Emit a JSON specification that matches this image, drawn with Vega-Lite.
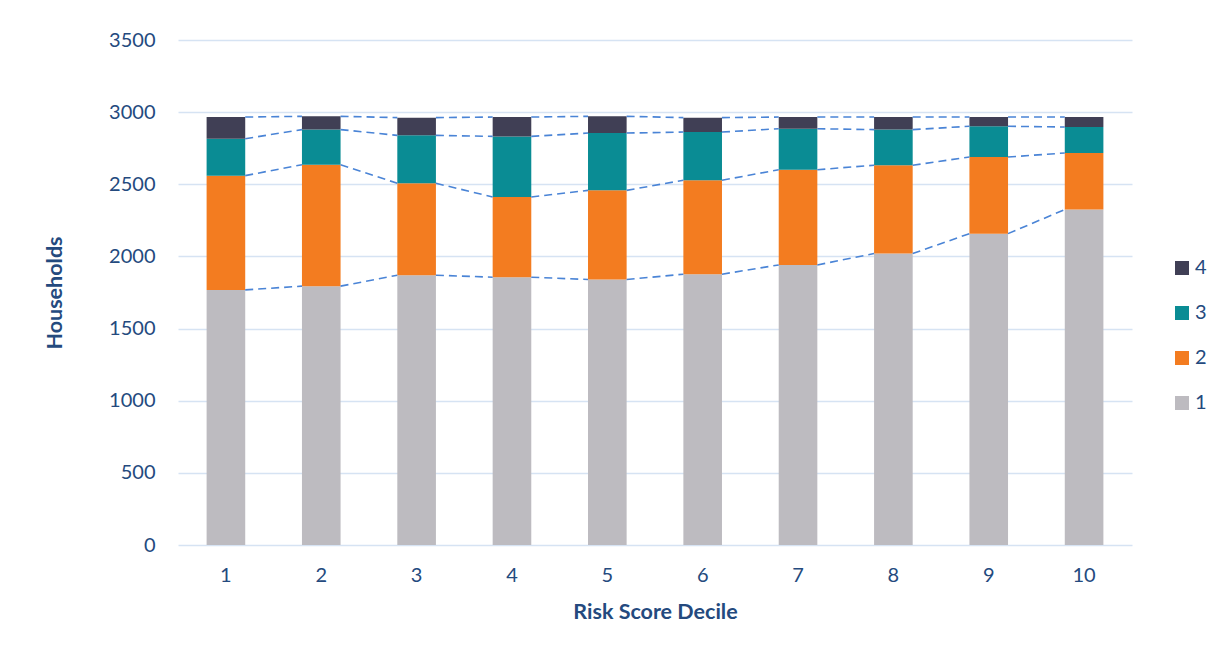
{
  "$schema": "https://vega.github.io/schema/vega-lite/v6.json",
  "autosize": {"type": "none"},
  "padding": {"left": 178, "top": 40, "right": 98, "bottom": 110},
  "width": 954,
  "height": 505,
  "background": "white",
  "config": {
    "view": {"stroke": null},
    "font": "Lato",
    "axis": {"labelColor": "#244a7e", "titleColor": "#244a7e", "labelFont": "Lato", "titleFont": "Lato"},
    "legend": {"labelColor": "#244a7e", "labelFont": "Lato"}
  },
  "data": {
    "values": [
      {"decile": 1, "level": 1, "count": 1768}, {"decile": 1, "level": 2, "count": 792}, {"decile": 1, "level": 3, "count": 256}, {"decile": 1, "level": 4, "count": 150},
      {"decile": 2, "level": 1, "count": 1794}, {"decile": 2, "level": 2, "count": 842}, {"decile": 2, "level": 3, "count": 243}, {"decile": 2, "level": 4, "count": 92},
      {"decile": 3, "level": 1, "count": 1870}, {"decile": 3, "level": 2, "count": 637}, {"decile": 3, "level": 3, "count": 332}, {"decile": 3, "level": 4, "count": 123},
      {"decile": 4, "level": 1, "count": 1856}, {"decile": 4, "level": 2, "count": 556}, {"decile": 4, "level": 3, "count": 420}, {"decile": 4, "level": 4, "count": 134},
      {"decile": 5, "level": 1, "count": 1840}, {"decile": 5, "level": 2, "count": 618}, {"decile": 5, "level": 3, "count": 397}, {"decile": 5, "level": 4, "count": 116},
      {"decile": 6, "level": 1, "count": 1877}, {"decile": 6, "level": 2, "count": 651}, {"decile": 6, "level": 3, "count": 334}, {"decile": 6, "level": 4, "count": 100},
      {"decile": 7, "level": 1, "count": 1941}, {"decile": 7, "level": 2, "count": 660}, {"decile": 7, "level": 3, "count": 284}, {"decile": 7, "level": 4, "count": 81},
      {"decile": 8, "level": 1, "count": 2020}, {"decile": 8, "level": 2, "count": 612}, {"decile": 8, "level": 3, "count": 247}, {"decile": 8, "level": 4, "count": 87},
      {"decile": 9, "level": 1, "count": 2158}, {"decile": 9, "level": 2, "count": 531}, {"decile": 9, "level": 3, "count": 213}, {"decile": 9, "level": 4, "count": 64},
      {"decile": 10, "level": 1, "count": 2325}, {"decile": 10, "level": 2, "count": 392}, {"decile": 10, "level": 3, "count": 180}, {"decile": 10, "level": 4, "count": 69}
    ]
  },
  "layer": [
    {
      "mark": {"type": "bar"},
      "encoding": {
        "x": {
          "field": "decile", "type": "ordinal",
          "scale": {"paddingInner": 0.595, "paddingOuter": 0.3},
          "axis": {
            "title": "Risk Score Decile", "labelAngle": 0, "labelFontSize": 20, "labelPadding": 20,
            "domain": false, "ticks": false, "grid": false,
            "titleFontSize": 21.5, "titleFontWeight": "bold",
            "titleX": 477, "titleY": 67, "titleBaseline": "middle"
          }
        },
        "y": {
          "field": "count", "type": "quantitative", "stack": "zero",
          "scale": {"domain": [0, 3500]},
          "axis": {
            "title": "Households", "values": [0, 500, 1000, 1500, 2000, 2500, 3000, 3500], "format": "d",
            "labelFontSize": 20, "labelPadding": 23, "domain": false, "ticks": false,
            "gridColor": "#d6e3f3", "gridWidth": 1.5,
            "titleFontSize": 21.5, "titleFontWeight": "bold",
            "titleX": -123, "titleY": 252.5, "titleAngle": 270, "titleAlign": "center", "titleBaseline": "middle"
          }
        },
        "color": {
          "field": "level", "type": "ordinal",
          "scale": {"domain": [4, 3, 2, 1], "range": ["#403f55", "#0a8c94", "#f37c20", "#bdbbc0"]},
          "legend": {
            "title": null, "orient": "none", "legendX": 994, "legendY": 218,
            "symbolType": "square", "symbolSize": 196, "symbolStrokeWidth": 0,
            "labelFontSize": 20, "rowPadding": 25, "labelOffset": 3
          }
        },
        "order": {"field": "level", "type": "quantitative", "sort": "ascending"}
      }
    },
    {
      "transform": [
        {"window": [{"op": "sum", "field": "count", "as": "cum"}], "groupby": ["decile"], "sort": [{"field": "level"}], "frame": [null, 0]},
        {"window": [{"op": "lead", "field": "cum", "as": "next_cum"}, {"op": "lead", "field": "decile", "as": "next_decile"}], "groupby": ["level"], "sort": [{"field": "decile"}]},
        {"filter": "datum.next_decile != null"}
      ],
      "mark": {"type": "rule", "color": "#4a84d6", "strokeWidth": 1.6, "strokeDash": [8, 5], "xOffset": 19.3, "x2Offset": -19.3},
      "encoding": {
        "x": {"field": "decile", "type": "ordinal"},
        "x2": {"field": "next_decile"},
        "y": {"field": "cum", "type": "quantitative"},
        "y2": {"field": "next_cum"}
      }
    }
  ]
}
